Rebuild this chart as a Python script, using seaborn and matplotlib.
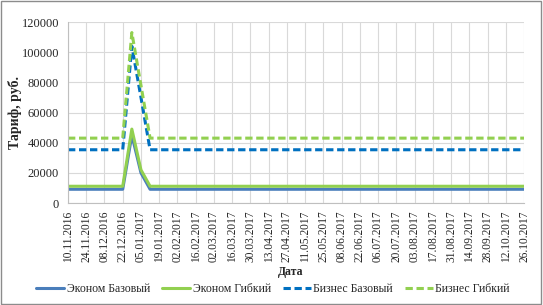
import numpy as np
import pandas as pd
import seaborn as sns
import matplotlib.pyplot as plt
from matplotlib.patches import Rectangle

# weekly tariffs, 10.11.2016 .. 26.10.2017 (51 weeks)
dates = pd.date_range('2016-11-10', periods=51, freq='7D')
econ_base = [9100] * 7 + [45000, 20000] + [9100] * 42
econ_flex = [11100] * 7 + [49000, 22000] + [11100] * 42
biz_base = [35300] * 7 + [104000, 70000] + [35300] * 42
biz_flex = [43000] * 7 + [113000, 78000] + [43000] * 42

tick_labels = ['10.11.2016', '24.11.2016', '08.12.2016', '22.12.2016', '05.01.2017',
               '19.01.2017', '02.02.2017', '16.02.2017', '02.03.2017', '16.03.2017',
               '30.03.2017', '13.04.2017', '27.04.2017', '11.05.2017', '25.05.2017',
               '08.06.2017', '22.06.2017', '06.07.2017', '20.07.2017', '03.08.2017',
               '17.08.2017', '31.08.2017', '14.09.2017', '28.09.2017', '12.10.2017',
               '26.10.2017']

sns.set_style('white')
plt.rcParams['font.family'] = ['Liberation Serif', 'DejaVu Serif']

df = pd.DataFrame({'week': np.arange(len(dates)),
                   'Эконом Базовый': econ_base, 'Эконом Гибкий': econ_flex,
                   'Бизнес Базовый': biz_base, 'Бизнес Гибкий': biz_flex})

fig = plt.figure(figsize=(5.43, 3.05), dpi=100)
ax = fig.add_axes([68 / 543, 1 - 203 / 305, 456 / 543, 181 / 305])

styles = [('Эконом Базовый', '#4A7EBB', '-'),
          ('Эконом Гибкий', '#92D050', '-'),
          ('Бизнес Базовый', '#0070C0', '--'),
          ('Бизнес Гибкий', '#92D050', '--')]
for name, col, ls in styles:
    sns.lineplot(data=df, x='week', y=name, ax=ax, color=col, linewidth=2.2,
                 label=name, legend=False)
for ln, (name, col, ls) in zip(ax.lines, styles):
    if ls == '--':
        ln.set_dashes((2.4, 1.2))

ax.set_xlim(0, 50)
ax.set_ylim(0, 120000)
ax.set_xticks(np.arange(0, 51, 2))
ax.set_xticklabels(tick_labels, rotation=90, fontsize=8.3)
ax.set_yticks(np.arange(0, 120001, 20000))
ax.set_yticklabels([str(v) for v in range(0, 120001, 20000)], fontsize=9)
ax.grid(True, color='#d9d9d9', linewidth=0.8)
ax.set_axisbelow(True)
for s in ['top', 'right']:
    ax.spines[s].set_visible(False)
ax.spines['bottom'].set_color('#bfbfbf')
ax.spines['left'].set_color('#bfbfbf')
ax.tick_params(axis='x', length=4, color='#bfbfbf', pad=1.5)
ax.tick_params(axis='y', length=4, color='#bfbfbf', pad=2.5)

ax.set_xlabel('Дата', fontsize=8.5, fontweight='bold')
ax.xaxis.set_label_coords((291 - 68) / 456, -(266 - 203) / 181)
ax.set_ylabel('Тариф, руб.', fontsize=10, fontweight='bold')
ax.yaxis.set_label_coords((22 - 68) / 456, 0.5)

handles, labels = ax.get_legend_handles_labels()
fig.legend(handles, labels, loc='center', bbox_to_anchor=(273 / 543, 1 - 289 / 305), ncol=4,
           frameon=False, fontsize=8.5, handlelength=2.4, columnspacing=1.0,
           handletextpad=0.2)

fig.patches.append(Rectangle((0.002, 0.003), 0.995, 0.994, transform=fig.transFigure,
                             fill=False, edgecolor='#8c8c8c', linewidth=1))
fig.savefig('out.png', dpi=100)
